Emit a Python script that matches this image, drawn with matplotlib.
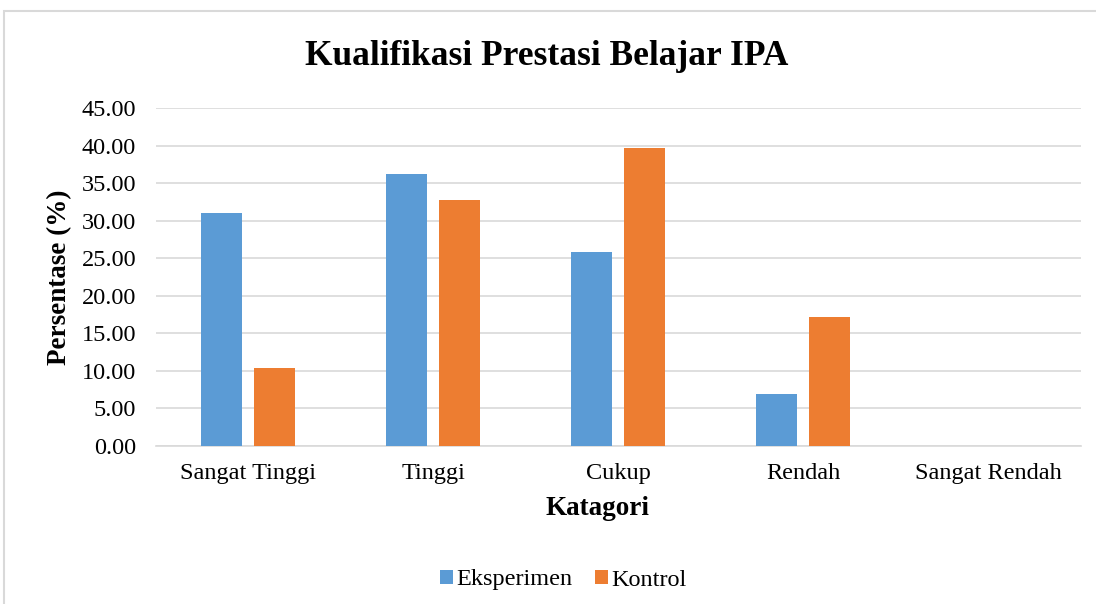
import matplotlib.pyplot as plt
import numpy as np
from matplotlib.patches import Rectangle

categories = ["Sangat Tinggi", "Tinggi", "Cukup", "Rendah", "Sangat Rendah"]
eksperimen = [31.03, 36.21, 25.86, 6.90, 0.00]
kontrol = [10.34, 32.76, 39.66, 17.24, 0.00]
y_ticks = [0, 5, 10, 15, 20, 25, 30, 35, 40, 45]

plt.rcParams["font.family"] = ["Liberation Serif", "DejaVu Serif"]

fig = plt.figure(figsize=(10.96, 6.04), dpi=100)
fig.patches.append(Rectangle((4 / 1096, -0.1), 1.2, 1 - 11 / 604 + 0.1,
                             transform=fig.transFigure, fill=False,
                             edgecolor="#D9D9D9", linewidth=1.5))

ax = fig.add_axes([0.1419, 0.2616, 0.8440, 0.5596])
x = np.arange(len(categories))
width = 0.22
ax.bar(x - 0.143, eksperimen, width, color="#5B9BD5", label="Eksperimen", zorder=3)
ax.bar(x + 0.143, kontrol, width, color="#ED7D31", label="Kontrol", zorder=3)

ax.set_xlim(-0.5, len(categories) - 0.5)
ax.set_ylim(0, 45)
ax.set_yticks(y_ticks, [f"{v:.2f}" for v in y_ticks])
ax.set_xticks(x, categories)
ax.tick_params(axis="both", length=0, labelsize=17.5, colors="#000000")
ax.tick_params(axis="y", pad=14)
ax.tick_params(axis="x", pad=12)
ax.grid(axis="y", color="#D9D9D9", linewidth=1.2, zorder=0)
ax.spines[["top", "right", "left"]].set_visible(False)
ax.spines["bottom"].set_color("#D9D9D9")
ax.spines["bottom"].set_linewidth(1.2)

ax.set_xlabel("Katagori", fontsize=19.5, fontweight="bold")
ax.xaxis.label.set_va("baseline")
ax.xaxis.set_label_coords(0.478, -0.204)
ax.set_ylabel("Persentase (%)", fontsize=19.5, fontweight="bold")
ax.yaxis.set_label_coords(-0.104, 0.5)
ax.yaxis.label.set_va("center")

fig.text(0.4986, 1 - 65 / 604, "Kualifikasi Prestasi Belajar IPA", ha="center", va="baseline",
         fontsize=25.5, fontweight="bold")

fig.legend(loc="center", bbox_to_anchor=(0.514, 1 - 580 / 604), ncol=2, frameon=False,
           fontsize=17.5, handlelength=0.55, handleheight=0.55, handletextpad=0.15,
           columnspacing=0.9)

fig.savefig("out.png", dpi=100)
